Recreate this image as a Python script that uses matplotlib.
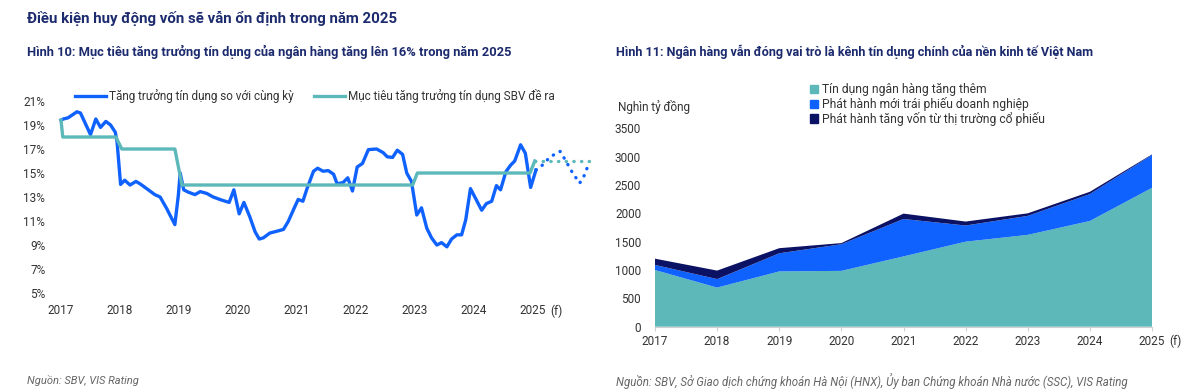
import numpy as np
import matplotlib.pyplot as plt
import matplotlib.transforms as mtransforms
from matplotlib.patches import Patch
from matplotlib.lines import Line2D

plt.rcParams['font.family'] = ['Roboto', 'DejaVu Sans']

# ---- Hình 10 data: credit growth yoy (%) ----
growth_t = [2017.0, 2017.04, 2017.12, 2017.27, 2017.33, 2017.5, 2017.59, 2017.67, 2017.76, 2017.84,
            2017.92, 2017.95, 2018.01, 2018.08, 2018.17, 2018.27, 2018.34, 2018.48, 2018.59, 2018.68,
            2018.79, 2018.93, 2018.99, 2019.02, 2019.08, 2019.16, 2019.27, 2019.36, 2019.47, 2019.58,
            2019.72, 2019.85, 2019.93, 2020.02, 2020.1, 2020.2, 2020.29, 2020.36, 2020.43, 2020.54,
            2020.66, 2020.77, 2020.85, 2020.95, 2021.02, 2021.1, 2021.17, 2021.28, 2021.35, 2021.44,
            2021.53, 2021.62, 2021.68, 2021.78, 2021.86, 2021.94, 2022.02, 2022.11, 2022.21, 2022.35,
            2022.46, 2022.53, 2022.62, 2022.7, 2022.79, 2022.86, 2022.94, 2023.03, 2023.11, 2023.2,
            2023.28, 2023.37, 2023.45, 2023.54, 2023.62, 2023.71, 2023.79, 2023.86, 2023.94, 2024.03,
            2024.13, 2024.21, 2024.3, 2024.38, 2024.45, 2024.54, 2024.62, 2024.69, 2024.79, 2024.87,
            2024.96, 2025.05]
growth_v = [19.4, 19.5, 19.6, 20.1, 20.0, 18.2, 19.5, 18.8, 19.3, 19.0,
            18.4, 17.6, 14.05, 14.4, 14.0, 14.3, 14.1, 13.6, 13.2, 13.0,
            12.05, 10.7, 13.2, 15.0, 13.6, 13.4, 13.2, 13.45, 13.3, 13.0,
            12.75, 12.55, 13.6, 11.6, 12.55, 11.35, 10.1, 9.5, 9.6, 10.0,
            10.15, 10.3, 10.95, 12.05, 12.8, 12.65, 13.7, 15.15, 15.4, 15.15,
            15.2, 14.9, 14.1, 14.2, 14.6, 13.5, 15.5, 15.8, 16.95, 17.0,
            16.7, 16.35, 16.3, 16.9, 16.55, 15.0, 14.3, 11.5, 12.1, 10.4,
            9.6, 9.0, 9.2, 8.85, 9.5, 9.85, 9.85, 11.1, 13.7, 12.85,
            11.9, 12.45, 12.65, 13.95, 13.6, 15.1, 15.65, 16.0, 17.35, 16.65,
            13.8, 15.25]
# forecast path (dotted)
fc_t = [2025.05, 2025.17, 2025.29, 2025.46, 2025.54, 2025.66, 2025.79, 2025.86, 2025.94]
fc_v = [15.25, 15.7, 16.35, 16.8, 16.15, 15.1, 14.15, 14.7, 15.7]

# SBV target (%)
target_t = [2017.0, 2017.03, 2017.93, 2018.03, 2018.93, 2019.05, 2022.96, 2023.04, 2024.95, 2025.03]
target_v = [19.4, 18, 18, 17, 17, 14, 14, 15, 15, 16]
target_fc_t = [2025.03, 2025.95]
target_fc_v = [16, 16]

# ---- Hình 11 data: nghìn tỷ đồng ----
years = ['2017', '2018', '2019', '2020', '2021', '2022', '2023', '2024', '2025']
bank_credit = [1000, 690, 975, 985, 1240, 1500, 1620, 1865, 2450]
bond_issue = [90, 150, 320, 470, 660, 285, 335, 475, 580]
equity_issue = [110, 150, 90, 20, 95, 70, 45, 40, 10]

NAVY = '#1c2a6e'
BLUE = '#0f62fe'
TEAL = '#5cb8b9'
DARK = '#0c1263'
TXT = '#333333'

fig = plt.figure(figsize=(12, 3.92), dpi=100)
W, H = 1200, 392

fig.text(27 / W, 1 - 18 / H, 'Điều kiện huy động vốn sẽ vẫn ổn định trong năm 2025',
         color=NAVY, fontsize=10.8, fontweight='bold', va='center', ha='left')
fig.text(27 / W, 1 - 52 / H, 'Hình 10: Mục tiêu tăng trưởng tín dụng của ngân hàng tăng lên 16% trong năm 2025',
         color=NAVY, fontsize=9.3, fontweight='bold', va='center', ha='left')
fig.text(616 / W, 1 - 52 / H, 'Hình 11: Ngân hàng vẫn đóng vai trò là kênh tín dụng chính của nền kinh tế Việt Nam',
         color=NAVY, fontsize=9.05, fontweight='bold', va='center', ha='left')

# ---------------- left chart ----------------
ax1 = fig.add_axes([55 / W, (H - 300) / H, 540 / W, 205 / H])
ax1.plot(growth_t, growth_v, color=BLUE, lw=2.4, solid_joinstyle='round')
ax1.plot(fc_t, fc_v, color=BLUE, lw=2.4, ls=(0, (0.1, 2.2)), dash_capstyle='round')
ax1.plot(target_t, target_v, color=TEAL, lw=2.4)
ax1.plot(target_fc_t, target_fc_v, color=TEAL, lw=2.4, ls=(0, (0.1, 2.2)), dash_capstyle='round')

ax1.set_xlim(2017 - 6 / 59, 2017 + 534 / 59)
ax1.set_ylim(4.42, 21.5)
ax1.set_yticks(range(5, 22, 2))
ax1.set_yticklabels([f'{v}%' for v in range(5, 22, 2)])
ax1.set_xticks(range(2017, 2026))
ax1.set_xticklabels([str(y) for y in range(2017, 2026)])
ax1.tick_params(length=0, labelsize=8.5, labelcolor=TXT, pad=7)
ax1.tick_params(axis='x', pad=3)
for s in ax1.spines.values():
    s.set_visible(False)
tr1 = mtransforms.offset_copy(ax1.get_xaxis_transform(), fig=fig, y=-3, units='points')
ax1.text(2025.3, 0, '(f)', transform=tr1, fontsize=8.5, color=TXT, ha='left', va='top')

h1 = [Line2D([], [], color=BLUE, lw=2.4), Line2D([], [], color=TEAL, lw=2.4)]
fig.legend(h1, ['Tăng trưởng tín dụng so với cùng kỳ', 'Mục tiêu tăng trưởng tín dụng SBV đề ra'],
           loc='center left', bbox_to_anchor=(75 / W, 1 - 96 / H), ncol=2, frameon=False,
           fontsize=8.5, handlelength=2.6, handletextpad=0.3, columnspacing=1.7,
           borderpad=0, borderaxespad=0, labelcolor=TXT)

# ---------------- right chart ----------------
ax2 = fig.add_axes([655 / W, (H - 326.7) / H, 497 / W, 198.4 / H])
x = np.arange(len(years))
ax2.stackplot(x, bank_credit, bond_issue, equity_issue,
              colors=[TEAL, BLUE, DARK], lw=0)
ax2.set_xlim(0, len(years) - 1)
ax2.set_ylim(0, 3500)
ax2.set_yticks(range(0, 3501, 500))
ax2.set_xticks(x)
ax2.set_xticklabels(years)
ax2.tick_params(axis='y', length=0, labelsize=8.5, labelcolor=TXT, pad=10)
ax2.tick_params(axis='x', length=3, color='#d0d0d0', labelsize=8.5, labelcolor=TXT, pad=3)
for k in ['top', 'right', 'left']:
    ax2.spines[k].set_visible(False)
ax2.spines['bottom'].set_color('#d0d0d0')
ax2.spines['bottom'].set_linewidth(0.8)
tr2 = mtransforms.offset_copy(ax2.get_xaxis_transform(), fig=fig, y=-6, units='points')
ax2.text(len(years) - 1 + 0.27, 0, '(f)', transform=tr2, fontsize=8.5, color=TXT,
         ha='left', va='top')
fig.text(618 / W, 1 - 107 / H, 'Nghìn tỷ đồng', fontsize=8.5, color=TXT, va='center', ha='left')

h2 = [Patch(color=TEAL), Patch(color=BLUE), Patch(color=DARK)]
fig.legend(h2, ['Tín dụng ngân hàng tăng thêm', 'Phát hành mới trái phiếu doanh nghiệp',
                'Phát hành tăng vốn từ thị trường cổ phiếu'],
           loc='upper left', bbox_to_anchor=(810 / W, 1 - 83 / H), frameon=False, fontsize=8.7,
           handlelength=0.7, handleheight=0.7, handletextpad=0.3, labelspacing=0.08,
           borderpad=0, borderaxespad=0, labelcolor=TXT)

fig.text(27 / W, 1 - 381 / H, 'Nguồn: SBV, VIS Rating', fontsize=8, style='italic',
         color='#666666', va='center', ha='left')
fig.text(616 / W, 1 - 381 / H,
         'Nguồn: SBV, Sở Giao dịch chứng khoán Hà Nội (HNX), Ủy ban Chứng khoán Nhà nước (SSC), VIS Rating',
         fontsize=8.3, style='italic', color='#666666', va='center', ha='left')

fig.savefig('out.png', dpi=100, facecolor='white')
